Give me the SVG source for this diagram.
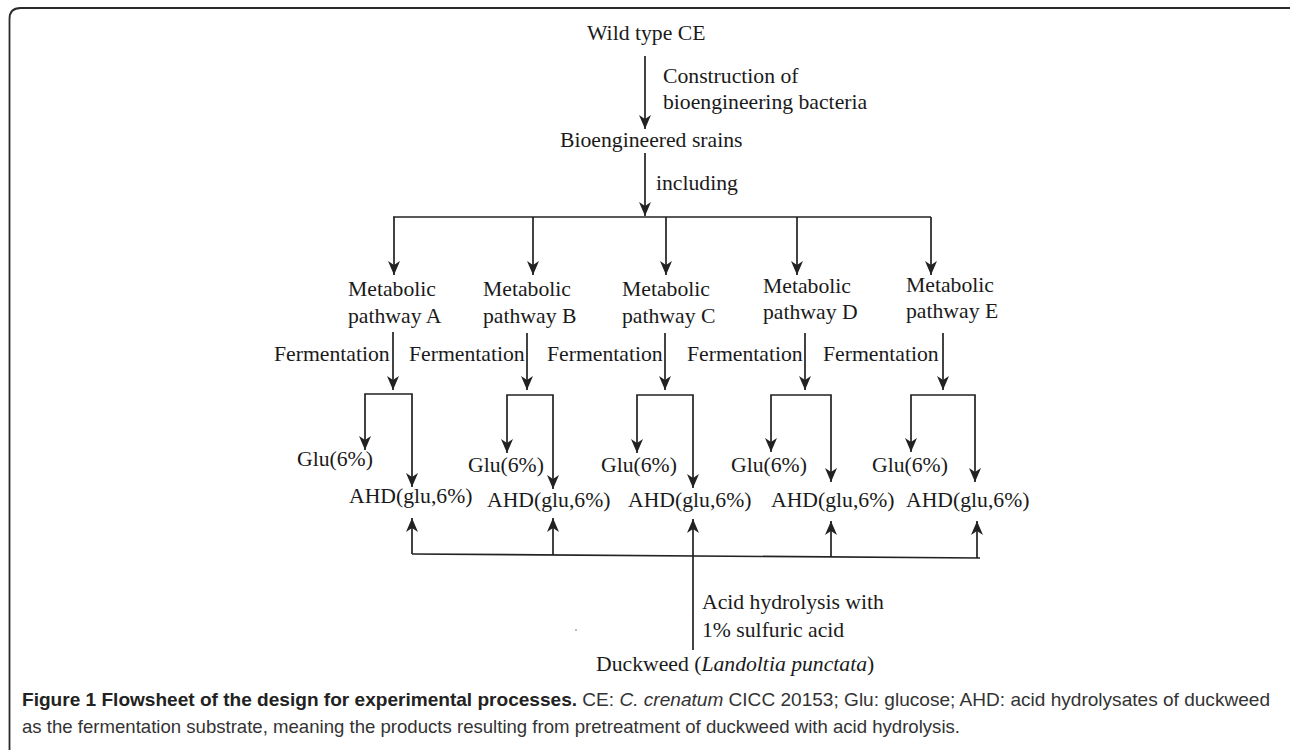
<svg xmlns="http://www.w3.org/2000/svg" width="1290" height="750" viewBox="0 0 1290 750">
<style>
.t{font-family:"Liberation Serif","Times New Roman",serif;font-size:21.7px;fill:#1a1a1a}
.c{stroke:#222;stroke-width:1.7;fill:none}
.a{marker-end:url(#ah)}
.cap{font-family:"Liberation Sans",Arial,sans-serif;font-size:19px;fill:#333}
.b{font-weight:bold;fill:#222}
</style>
<defs>
<marker id="ah" viewBox="0 0 14 12" refX="14" refY="6" markerWidth="14" markerHeight="12" markerUnits="userSpaceOnUse" orient="auto">
<path d="M0,0 L14,6 L0,12 L4,6 z" fill="#222"/>
</marker>
</defs>
<rect width="1290" height="750" fill="#fff"/>
<path d="M9.5,752 L9.5,19 Q9.5,8 20.5,8 L1292,8" fill="none" stroke="#2a2a2a" stroke-width="1.8"/>

<g id="connectors">
<path class="c a" d="M645,56 V129"/>
<path class="c a" d="M645,153 V216"/>
<path class="c" d="M393,217 H931"/>
<path class="c a" d="M394,217 V275"/>
<path class="c a" d="M533,217 V275"/>
<path class="c a" d="M666,217 V275"/>
<path class="c a" d="M797,217 V275"/>
<path class="c a" d="M931,217 V275"/>
<path class="c a" d="M393,332 V390"/>
<path class="c a" d="M527,333 V390"/>
<path class="c a" d="M665,333 V390"/>
<path class="c a" d="M805,333 V390"/>
<path class="c a" d="M943,333 V390"/>
<path class="c a" d="M390,394 H365 V450"/>
<path class="c a" d="M390,394 H412 V487"/>
<path class="c a" d="M530,395 H507 V453"/>
<path class="c a" d="M530,395 H553 V489"/>
<path class="c a" d="M665,395 H637 V453"/>
<path class="c a" d="M665,395 H693 V488"/>
<path class="c a" d="M800,395 H771 V452"/>
<path class="c a" d="M800,395 H831 V482"/>
<path class="c a" d="M940,395 H911 V452"/>
<path class="c a" d="M940,395 H975 V482"/>
<path class="c" d="M412,554 L980,558"/>
<path class="c a" d="M412,554 V518"/>
<path class="c a" d="M553,555 V518"/>
<path class="c a" d="M693,650 V519"/>
<path class="c a" d="M831,557 V521"/>
<path class="c a" d="M977,558 V521"/>
</g>

<g id="wild"><text class="t" x="587" y="40">Wild type CE</text></g>
<g id="lbl-construction"><text class="t" x="663" y="83">Construction of</text><text class="t" x="663" y="109">bioengineering bacteria</text></g>
<g id="strains"><text class="t" x="560" y="147">Bioengineered srains</text></g>
<g id="lbl-including"><text class="t" x="656" y="190">including</text></g>

<g id="pathA"><text class="t" x="348" y="296">Metabolic</text><text class="t" x="348" y="323">pathway A</text></g>
<g id="pathB"><text class="t" x="483" y="296">Metabolic</text><text class="t" x="483" y="323">pathway B</text></g>
<g id="pathC"><text class="t" x="622" y="296">Metabolic</text><text class="t" x="622" y="323">pathway C</text></g>
<g id="pathD"><text class="t" x="763" y="293">Metabolic</text><text class="t" x="763" y="319">pathway D</text></g>
<g id="pathE"><text class="t" x="906" y="292">Metabolic</text><text class="t" x="906" y="318">pathway E</text></g>

<g id="fermLabels">
<text class="t" x="274" y="361">Fermentation</text>
<text class="t" x="409" y="361">Fermentation</text>
<text class="t" x="547" y="361">Fermentation</text>
<text class="t" x="687" y="361">Fermentation</text>
<text class="t" x="823" y="361">Fermentation</text>
</g>

<g id="gluA"><text class="t" x="297" y="466">Glu(6%)</text></g>
<g id="gluB"><text class="t" x="468" y="472">Glu(6%)</text></g>
<g id="gluC"><text class="t" x="601" y="472">Glu(6%)</text></g>
<g id="gluD"><text class="t" x="731" y="472">Glu(6%)</text></g>
<g id="gluE"><text class="t" x="872" y="472">Glu(6%)</text></g>

<g id="ahdA"><text class="t" x="349" y="503">AHD(glu,6%)</text></g>
<g id="ahdB"><text class="t" x="487" y="507">AHD(glu,6%)</text></g>
<g id="ahdC"><text class="t" x="628" y="507">AHD(glu,6%)</text></g>
<g id="ahdD"><text class="t" x="771" y="507">AHD(glu,6%)</text></g>
<g id="ahdE"><text class="t" x="906" y="507">AHD(glu,6%)</text></g>

<g id="lbl-acid"><text class="t" x="702" y="609">Acid hydrolysis with</text><text class="t" x="702" y="637">1% sulfuric acid</text></g>
<circle cx="576" cy="630" r="0.8" fill="#666"/>
<g id="duckweed"><text class="t" x="596" y="671">Duckweed (<tspan font-style="italic">Landoltia punctata</tspan>)</text></g>

<g id="caption">
<text class="cap" x="22" y="706" textLength="1248" lengthAdjust="spacingAndGlyphs"><tspan class="b">Figure 1 Flowsheet of the design for experimental processes.</tspan> CE: <tspan font-style="italic">C. crenatum</tspan> CICC 20153; Glu: glucose; AHD: acid hydrolysates of duckweed</text>
<text class="cap" x="22" y="733" textLength="938" lengthAdjust="spacingAndGlyphs">as the fermentation substrate, meaning the products resulting from pretreatment of duckweed with acid hydrolysis.</text>
</g>
</svg>
